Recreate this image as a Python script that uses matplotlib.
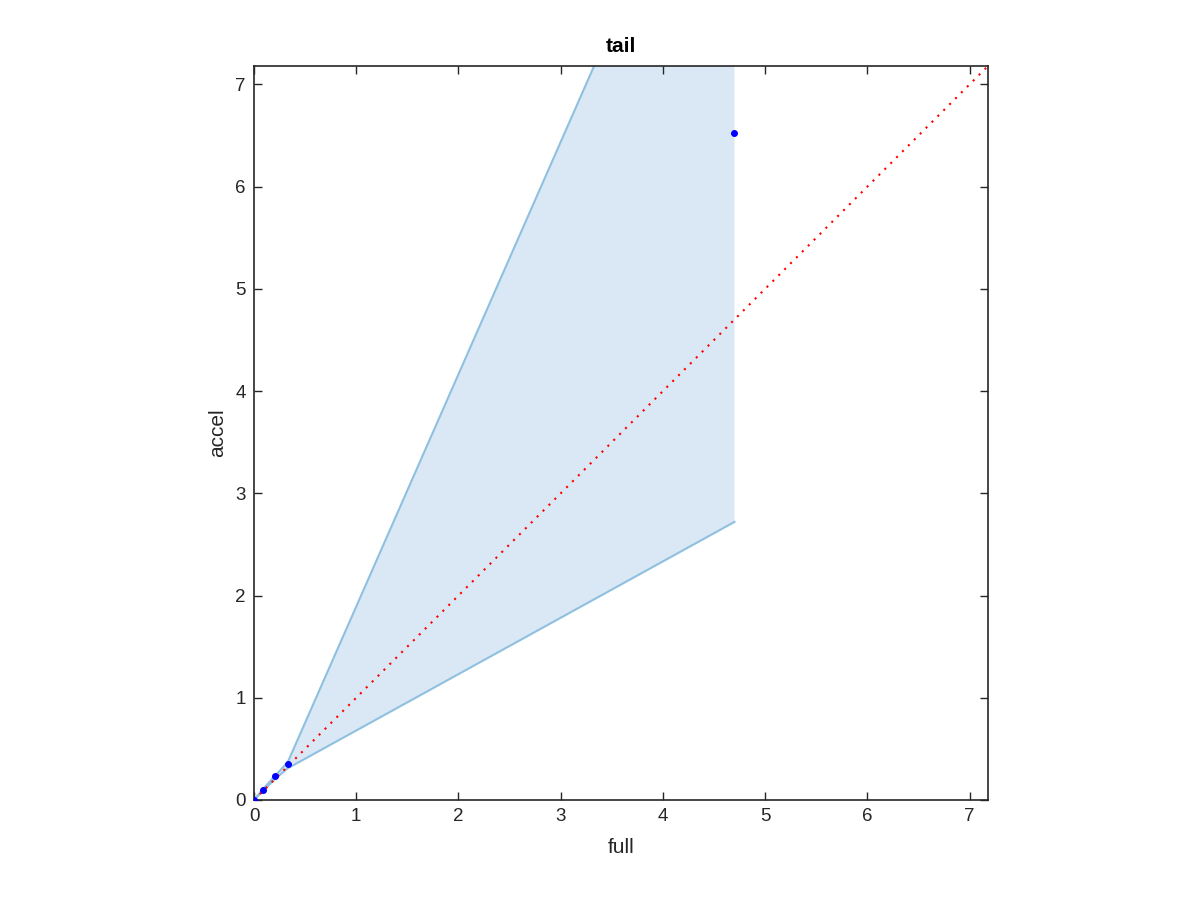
import matplotlib
matplotlib.use("Agg")
import matplotlib.pyplot as plt
import numpy as np

plt.rcParams['font.family'] = ['Liberation Sans', 'DejaVu Sans']

# data
band_x = [0.0, 0.09, 0.21, 0.33, 4.70]
band_lower = [0.0, 0.09, 0.21, 0.31, 2.72]
band_upper = [0.0, 0.11, 0.24, 0.37, 10.30]
pts_full = [0.0, 0.09, 0.21, 0.33, 4.70]
pts_accel = [0.0, 0.10, 0.23, 0.35, 6.52]
lim = 7.18
ticks = [0, 1, 2, 3, 4, 5, 6, 7]

fig = plt.figure(figsize=(12, 9), dpi=100)
ax = fig.add_axes([254/1200, 100/900, 734/1200, 734/900])

ax.fill_between(band_x, band_lower, band_upper, color='#d9e8f4', linewidth=0, zorder=1)
ax.plot(band_x, band_lower, color='#8fc0e0', linewidth=1.5, zorder=2)
ax.plot(band_x, band_upper, color='#8fc0e0', linewidth=1.5, zorder=2)
ax.plot([0, lim], [0, lim], color='red', linestyle=(0, (1, 3)), linewidth=1.5, zorder=3)
ax.plot(pts_full, pts_accel, linestyle='none', marker='o', markersize=4,
        color='blue', zorder=4)

ax.set_xlim(0, lim)
ax.set_ylim(0, lim)
ax.set_xticks(ticks)
ax.set_yticks(ticks)
ax.tick_params(direction='in', top=True, right=True, length=6, width=1,
               labelsize=13.5, colors='#262626', pad=6)
for s in ax.spines.values():
    s.set_color('#262626')
    s.set_linewidth(1.2)
ax.set_xlabel('full', fontsize=15, color='#262626', labelpad=9)
ax.set_ylabel('accel', fontsize=15, color='#262626', labelpad=6)
ax.set_title('tail', fontsize=15, fontweight='bold', pad=10)

fig.savefig('out.png', dpi=100)
